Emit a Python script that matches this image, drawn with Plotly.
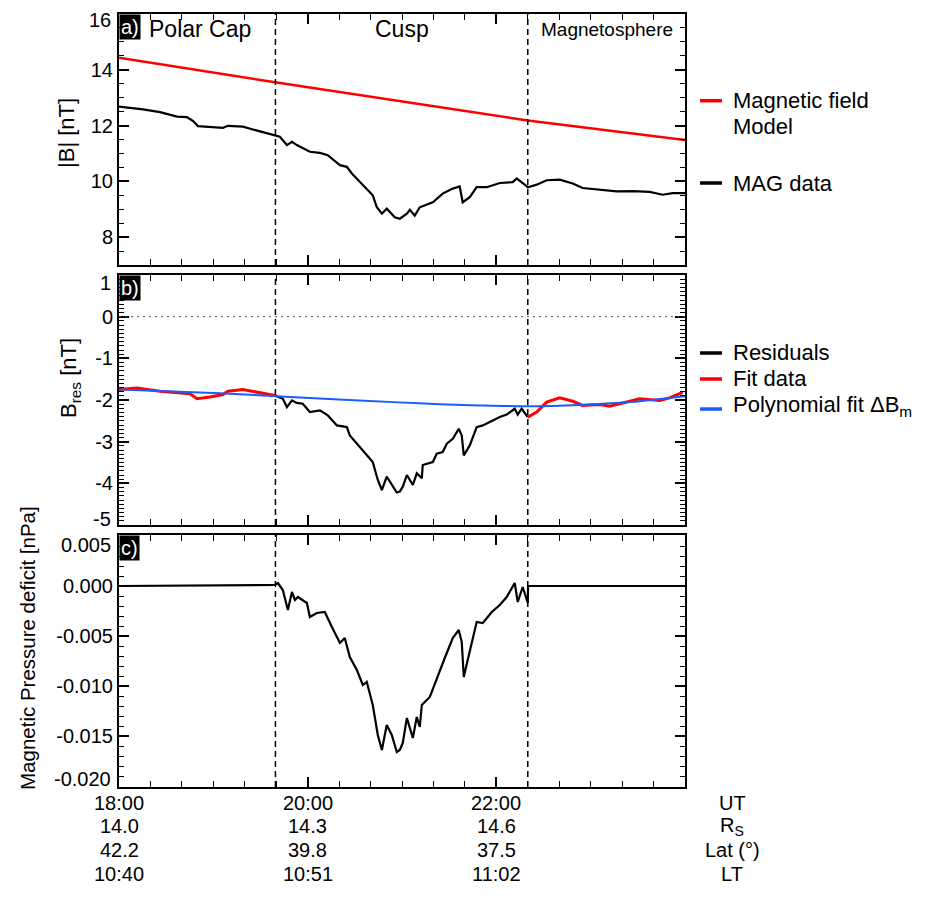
import plotly.graph_objects as go

# ---------------- data (time in minutes after 18:00 UT) ----------------
mag_t = [0, 15.3, 26.1, 36.9, 43.2, 47.0, 50.2, 57.8, 66.1, 69.3, 78.8, 85.2, 94.1,
         102.3, 106.8, 110.0, 113.1, 121.4, 127.8, 132.8, 140.5, 144.9, 148.1, 155.1,
         161.4, 164.0, 167.2, 170.3, 175.4, 178.6, 183.1, 185.0, 188.1, 191.3, 199.6,
         205.9, 212.3, 216.7, 218.6, 223.1, 227.5, 233.9, 242.2, 250.4, 253.0, 256.8,
         260.0, 265.7, 272.0, 280.3, 288.6, 294.9, 305.7, 316.5, 326.7, 337.5, 345.8,
         352.1, 360]
mag_b = [12.68, 12.58, 12.48, 12.32, 12.30, 12.17, 11.98, 11.96, 11.92, 11.99, 11.96,
         11.86, 11.72, 11.60, 11.30, 11.42, 11.30, 11.06, 11.02, 10.94, 10.58, 10.52,
         10.28, 9.86, 9.50, 9.07, 8.84, 9.02, 8.71, 8.66, 8.84, 8.98, 8.77, 9.07, 9.25,
         9.56, 9.74, 9.82, 9.25, 9.43, 9.79, 9.79, 9.94, 9.97, 10.10, 9.94, 9.79, 9.88,
         10.04, 10.06, 9.92, 9.76, 9.70, 9.64, 9.65, 9.62, 9.52, 9.58, 9.58]

model_t = [0, 99.2, 260, 360]
model_b = [14.43, 13.55, 12.18, 11.48]

res_t = [99.2, 104.2, 106.8, 110.0, 113.1, 116.9, 121.4, 127.8, 132.8, 138.6, 144.9,
         146.8, 155.1, 161.4, 164.6, 167.2, 170.3, 173.5, 176.7, 178.6, 180.5, 183.1,
         186.9, 189.4, 192.6, 193.2, 199.6, 202.1, 205.9, 208.5, 212.3, 216.1, 218.0,
         219.3, 223.1, 227.5, 231.4, 235.8, 242.2, 246.6, 251.7, 253.6, 256.1, 260.0]
res_v = [-1.89, -1.97, -2.17, -2.01, -2.07, -2.09, -2.29, -2.25, -2.37, -2.61, -2.65,
         -2.85, -3.21, -3.49, -3.92, -4.16, -3.84, -4.04, -4.22, -4.20, -4.08, -3.80,
         -4.04, -3.76, -3.88, -3.56, -3.49, -3.29, -3.25, -3.05, -2.93, -2.69, -2.85,
         -3.33, -3.09, -2.65, -2.61, -2.53, -2.41, -2.35, -2.21, -2.35, -2.21, -2.41]

fit_left_t = [0, 11.4, 26.1, 36.9, 45.1, 49.6, 57.8, 66.1, 69.3, 78.8, 87.7, 97.9, 99.2]
fit_left_v = [-1.75, -1.71, -1.79, -1.83, -1.85, -1.97, -1.93, -1.87, -1.79, -1.75,
              -1.81, -1.87, -1.89]
fit_right_t = [260.0, 265.7, 272.0, 280.3, 288.6, 294.9, 305.7, 312.1, 322.9, 331.1,
               343.9, 350.2, 356.6, 358.5]
fit_right_v = [-2.41, -2.29, -2.05, -1.95, -2.03, -2.13, -2.11, -2.15, -2.05, -1.97,
               -2.01, -1.95, -1.85, -1.81]

poly_t = [0, 38.8, 76.9, 115, 153, 191, 229, 260, 293, 325, 360]
poly_v = [-1.75, -1.80, -1.86, -1.94, -2.01, -2.08, -2.13, -2.15, -2.12, -2.05, -1.91]

dp_t = [0, 99.2, 101.1, 104.2, 107.4, 110.0, 111.9, 113.8, 119.5, 121.4, 125.8, 130.9,
        135.4, 140.5, 143.6, 146.8, 151.3, 155.1, 157.6, 161.4, 164.6, 167.2, 170.3,
        173.5, 176.7, 178.6, 180.5, 183.1, 186.9, 189.4, 191.3, 192.6, 197.7, 202.1,
        207.2, 212.3, 216.1, 218.0, 219.3, 221.8, 227.5, 231.4, 237.1, 242.2, 246.6,
        251.7, 253.6, 256.8, 260.0, 260.2, 360]
dp_v = [0, 0.0001, 0.0003, -0.0004, -0.0024, -0.0006, -0.0014, -0.0011, -0.0017,
        -0.0031, -0.0027, -0.0026, -0.0041, -0.0057, -0.0052, -0.0071, -0.0084, -0.0099,
        -0.0096, -0.0119, -0.0149, -0.0164, -0.0139, -0.0149, -0.0166, -0.0164, -0.0157,
        -0.0132, -0.0152, -0.0131, -0.0141, -0.0119, -0.0111, -0.0092, -0.0072, -0.0052,
        -0.0044, -0.0056, -0.0091, -0.0074, -0.0036, -0.0037, -0.0026, -0.0019, -0.0011,
        0.0003, -0.0016, -0.0001, -0.0017, 0, 0]

boundaries_t = [99.5, 260.0]
region_names = ["Polar Cap", "Cusp", "Magnetosphere"]
region_t = [51.2, 179.9, 310.2]

ut_tick_t = [0, 120, 240]
ut_labels = ["18:00", "20:00", "22:00"]
rs_labels = ["14.0", "14.3", "14.6"]
lat_labels = ["42.2", "39.8", "37.5"]
lt_labels = ["10:40", "10:51", "11:02"]
row_names = ["UT", "R<sub>S</sub>", "Lat (°)", "LT"]

ya_ticks = [8, 10, 12, 14, 16]
yb_ticks = [1, 0, -1, -2, -3, -4, -5]
yc_ticks = [0.005, 0.0, -0.005, -0.010, -0.015, -0.020]

# ---------------- geometry helpers (screen pixels; page body adds 8 px) ----------------
FONT = "Liberation Sans, Arial, Helvetica, sans-serif"
OFF = 8
PX_L, PX_R, PX_T, PX_B = 119, 685, 14, 787
PW, PH = PX_R - PX_L, PX_B - PX_T
FIG_W, FIG_H = 921, 898


def px2x(px):
    return (px - PX_L) / PW


def px2y(py):
    return (PX_B - py) / PH


fig = go.Figure()

RED = "#ff0000"
BLUE = "#1a5cff"

fig.add_trace(go.Scatter(x=model_t, y=model_b, mode="lines", line=dict(color=RED, width=2.5),
                         xaxis="x", yaxis="y", showlegend=False))
fig.add_trace(go.Scatter(x=mag_t, y=mag_b, mode="lines", line=dict(color="black", width=2.2),
                         xaxis="x", yaxis="y", showlegend=False))

fig.add_trace(go.Scatter(x=res_t, y=res_v, mode="lines", line=dict(color="black", width=2.2),
                         xaxis="x2", yaxis="y2", showlegend=False))
fig.add_trace(go.Scatter(x=fit_left_t, y=fit_left_v, mode="lines", line=dict(color=RED, width=3),
                         xaxis="x2", yaxis="y2", showlegend=False))
fig.add_trace(go.Scatter(x=fit_right_t, y=fit_right_v, mode="lines", line=dict(color=RED, width=3),
                         xaxis="x2", yaxis="y2", showlegend=False))
fig.add_trace(go.Scatter(x=poly_t, y=poly_v, mode="lines", line=dict(color=BLUE, width=2, shape="spline"),
                         xaxis="x2", yaxis="y2", showlegend=False))

fig.add_trace(go.Scatter(x=dp_t, y=dp_v, mode="lines", line=dict(color="black", width=2.2),
                         xaxis="x3", yaxis="y3", showlegend=False))

# panel domains
dom_a = [px2y(265), 1.0]
dom_b = [px2y(525), px2y(275)]
dom_c = [0.0, px2y(535)]


def xax(anchor):
    return dict(range=[0, 360], domain=[0, 1], anchor=anchor, showline=True, linecolor="black",
                linewidth=2, mirror="ticks", ticks="inside", tickmode="linear", tick0=0,
                dtick=120, ticklen=10, tickwidth=1.5, tickcolor="black", showticklabels=False,
                showgrid=False, zeroline=False,
                minor=dict(dtick=20, tick0=0, ticks="inside", ticklen=6, tickwidth=1.2,
                           tickcolor="black", showgrid=False))


def yax(anchor, rng, dom, tv, tt, mdt):
    return dict(range=rng, domain=dom, anchor=anchor, showline=True, linecolor="black",
                linewidth=2, mirror="ticks", ticks="inside", tickmode="array", tickvals=tv,
                ticktext=tt, ticklen=10, tickwidth=1.5, tickcolor="black",
                tickfont=dict(size=20, color="black", family=FONT), showgrid=False,
                zeroline=False,
                minor=dict(dtick=mdt, ticks="inside", ticklen=5, tickwidth=1.2,
                           tickcolor="black", showgrid=False))


# edge labels are nudged inwards (as in the original figure) -> drawn as annotations;
# the edge ticks coincide with the frame, so they are left out of the axis tick lists
edge_a, edge_b, edge_c = [16], [1, -5], [0.005, -0.020]
cfmt = lambda v: "%.3f" % v

a_tv = [v for v in ya_ticks if v not in edge_a]
b_tv = [v for v in yb_ticks if v not in edge_b]
c_tv = [v for v in yc_ticks if v not in edge_c]

fig.update_layout(
    width=FIG_W, height=FIG_H,
    margin=dict(l=PX_L - OFF, r=FIG_W - (PX_R - OFF), t=PX_T - OFF, b=FIG_H - (PX_B - OFF),
                autoexpand=False),
    paper_bgcolor="white", plot_bgcolor="white",
    font=dict(family=FONT, color="black", size=20),
    showlegend=False,
    xaxis=xax("y"), xaxis2=xax("y2"), xaxis3=xax("y3"),
    yaxis=yax("x", [7, 16], dom_a, a_tv, [str(v) for v in a_tv], 0.5),
    yaxis2=yax("x2", [-5, 1], dom_b, b_tv, [str(v) for v in b_tv], 0.1),
    yaxis3=yax("x3", [-0.0201, 0.0051], dom_c, c_tv, [cfmt(v) for v in c_tv], 0.001),
)

shapes = []
for xr, yr in (("x", "y"), ("x2", "y2"), ("x3", "y3")):
    for bt in boundaries_t:
        shapes.append(dict(type="line", xref=xr, x0=bt, x1=bt, yref=yr + " domain", y0=0, y1=1,
                           line=dict(color="black", width=1.5, dash="6px,4px")))
shapes.append(dict(type="line", xref="x2 domain", x0=0, x1=1, yref="y2", y0=0, y1=0,
                   line=dict(color="#555555", width=1, dash="2px,4px")))

# legend-like key
key_items = [
    (100.7, RED), (183, "black"),
    (353, "black"), (379, RED), (409, BLUE),
]
for py, col in key_items:
    shapes.append(dict(type="line", xref="paper", yref="paper", x0=px2x(700), x1=px2x(722),
                       y0=px2y(py), y1=px2y(py), line=dict(color=col, width=3.5)))
fig.update_layout(shapes=shapes)

ann = []
key_texts = [(100, "Magnetic field"), (127, "Model"), (183, "MAG data"),
             (353, "Residuals"), (379, "Fit data"), (406, "Polynomial fit ΔB<sub>m</sub>")]
for py, txt in key_texts:
    ann.append(dict(xref="paper", yref="paper", x=px2x(731), y=px2y(py), text=txt,
                    showarrow=False, xanchor="left", yanchor="middle",
                    font=dict(size=22, family=FONT, color="black")))

# nudged edge tick labels
edge_labels = [("16", 20), ("1", 283), ("-5", 519), ("0.005", 545), ("-0.020", 779)]
for txt, py in edge_labels:
    ann.append(dict(xref="paper", yref="paper", x=px2x(113), y=px2y(py), text=txt,
                    showarrow=False, xanchor="right", yanchor="middle",
                    font=dict(size=20, family=FONT, color="black")))

# panel letters
for lbl, xr, yr in (("a)", "x", "y"), ("b)", "x2", "y2"), ("c)", "x3", "y3")):
    ann.append(dict(xref=xr + " domain", yref=yr + " domain", x=0, y=1, text=lbl,
                    showarrow=False, xanchor="left", yanchor="top", bgcolor="black",
                    borderpad=1, font=dict(size=20, family=FONT, color="white")))

# region names
for name, t in zip(region_names, region_t):
    size = 19 if name == "Magnetosphere" else 23
    ann.append(dict(xref="x", yref="paper", x=t, y=px2y(29), text=name, showarrow=False,
                    xanchor="center", yanchor="middle",
                    font=dict(size=size, family=FONT, color="black")))

# axis titles
ann.append(dict(xref="paper", yref="paper", x=px2x(66), y=px2y(133), text="|B| [nT]",
                textangle=-90, showarrow=False, xanchor="center", yanchor="middle",
                font=dict(size=22, family=FONT, color="black")))
ann.append(dict(xref="paper", yref="paper", x=px2x(70), y=px2y(378),
                text="B<sub>res</sub> [nT]", textangle=-90, showarrow=False,
                xanchor="center", yanchor="middle",
                font=dict(size=22, family=FONT, color="black")))
ann.append(dict(xref="paper", yref="paper", x=px2x(27), y=px2y(648),
                text="Magnetic Pressure deficit [nPa]", textangle=-90, showarrow=False,
                xanchor="center", yanchor="middle",
                font=dict(size=20.5, family=FONT, color="black")))

# bottom multi-row labels
row_py = [803, 826, 850, 874]
for rows_i, labels in enumerate([ut_labels, rs_labels, lat_labels, lt_labels]):
    for t, lab in zip(ut_tick_t, labels):
        ann.append(dict(xref="x3", yref="paper", x=t, y=px2y(row_py[rows_i]), text=lab,
                        showarrow=False, xanchor="center", yanchor="middle",
                        font=dict(size=20, family=FONT, color="black")))
    ann.append(dict(xref="paper", yref="paper", x=px2x(732), y=px2y(row_py[rows_i]),
                    text=row_names[rows_i], showarrow=False, xanchor="center",
                    yanchor="middle", font=dict(size=20, family=FONT, color="black")))

fig.update_layout(annotations=ann)

fig.write_html("out.html")
